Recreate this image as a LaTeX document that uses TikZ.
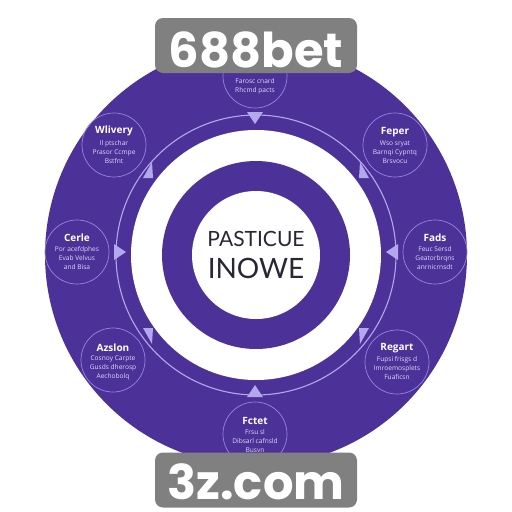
\documentclass[tikz,border=0pt]{standalone}
\usepackage{fontspec}
\setmainfont{Open Sans}
\newfontfamily\wmfont{Poppins}
\newfontfamily\ctrfont{Lato}
\definecolor{purp}{RGB}{76,50,152}
\definecolor{lav}{RGB}{178,168,236}
\definecolor{lavline}{RGB}{150,132,222}
\definecolor{bodytxt}{RGB}{222,216,248}
\definecolor{wmgray}{RGB}{128,128,128}
\definecolor{ctrtxt}{RGB}{40,40,52}
\tikzset{
  stage/.style={circle,draw=lavline,line width=0.7pt,minimum size=64pt,inner sep=0pt},
  stagetitle/.style={text=white,font=\bfseries\fontsize{10}{12}\selectfont,inner sep=0pt},
  stagebody/.style={text=bodytxt,font=\fontsize{6.6}{9}\selectfont,align=center,inner sep=0pt},
  ringline/.style={draw=lav,line width=1.1pt},
  tri/.style={fill=lav},
  wmbox/.style={fill=wmgray,rounded corners=8pt,minimum width=202pt,minimum height=55pt,inner sep=0pt},
  wmtext/.style={text=white,font=\wmfont\bfseries\fontsize{48}{48}\selectfont,inner sep=0pt}
}
\begin{document}
\begin{tikzpicture}[x=1pt,y=-1pt]
\useasboundingbox (0,0) rectangle (512,512);
\fill[white] (0,0) rectangle (512,512);
% rings
\fill[purp] (256,255) circle (211pt);
\fill[white] (256,255) circle (125pt);
\fill[purp] (256,255) circle (94pt);
\fill[white] (256,255) circle (64pt);
\draw[ringline] (256,255) circle (140pt);
% center text
\node[text=ctrtxt,font=\ctrfont\fontsize{21}{21}\selectfont,inner sep=0pt] (ct1) at (256,239) {PASTICUE};
\node[text=ctrtxt,font=\ctrfont\fontsize{28}{28}\selectfont,inner sep=0pt] (ct2) at (256,268) {INOWE};
% arrowheads
\fill[tri] (247,112) -- (263,112) -- (255,124) -- cycle;
\fill[tri] (247,397) -- (263,397) -- (255,385) -- cycle;
\fill[tri] (114,244) -- (114,260) -- (126,252) -- cycle;
\fill[tri] (398,244) -- (398,260) -- (386,252) -- cycle;
\fill[tri] (143,178) -- (152,162) -- (153,178) -- cycle;
\fill[tri] (369,178) -- (360,162) -- (359,178) -- cycle;
\fill[tri] (143,328) -- (152,344) -- (153,328) -- cycle;
\fill[tri] (369,328) -- (360,344) -- (359,328) -- cycle;
% stages
\node[stage] (s1) at (255,76) {};
\node[stagetitle] (s1t) at (255,64) {Pteat};
\node[stagebody] (s1b) at (255,86) {Farosc cnard\\Rhcmd pacts};

\node[stage] (s2) at (114,145) {};
\node[stagetitle] (s2t) at (114,131) {Wlivery};
\node[stagebody] (s2b) at (114,152) {Il ptschar\\Prasor Ccmpe\\Bstfnt};

\node[stage] (s3) at (395,145) {};
\node[stagetitle] (s3t) at (395,132) {Feper};
\node[stagebody] (s3b) at (395,152) {Wso sryat\\Barnqi Cypntq\\Brsvocu};

\node[stage] (s4) at (77,252) {};
\node[stagetitle] (s4t) at (77,238) {Cerle};
\node[stagebody] (s4b) at (77,258) {Por acefdphes\\Evab Velvus\\and Bisa};

\node[stage] (s5) at (435,252) {};
\node[stagetitle] (s5t) at (435,238) {Fads};
\node[stagebody] (s5b) at (435,258) {Feuc Sersd\\Geatorbrqns\\anrnicrnsdt};

\node[stage] (s6) at (113,360) {};
\node[stagetitle] (s6t) at (113,348) {Azslon};
\node[stagebody] (s6b) at (113,368) {Cosnoy Carpte\\Gusds dherosp\\Aechobolq};

\node[stage] (s7) at (397,362) {};
\node[stagetitle] (s7t) at (397,348) {Regart};
\node[stagebody] (s7b) at (397,368) {Fupsi frisgs d\\Imroemosplets\\Fuaficsn};

\node[stage] (s8) at (255,434) {};
\node[stagetitle] (s8t) at (255,421) {Fctet};
\node[stagebody] (s8b) at (255,441) {Frsu sl\\Dibsarl cafnsld\\Busvn};
% watermarks
\node[wmbox] (wm1) at (256,45.5) {};
\node[wmtext] (wm1t) at (256,49.5) {688bet};
\node[wmbox] (wm2) at (256,480) {};
\node[wmtext] (wm2t) at (256,482) {3z.com};
\end{tikzpicture}
\end{document}
